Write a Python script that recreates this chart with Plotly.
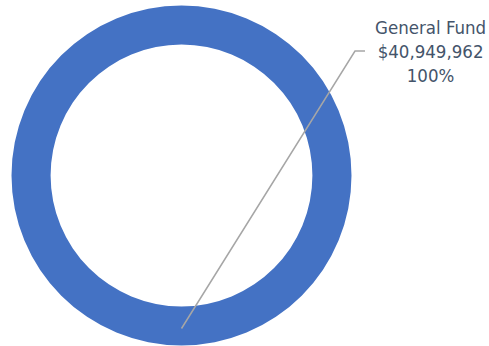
import plotly.graph_objects as go

# Fund breakdown
labels = ["General Fund"]
amounts = [40949962]
shares = [100]

W, H = 489, 346
ring_color = "#4472C4"
text_color = "#44546A"
leader_color = "#A6A6A6"
font_family = "Liberation Sans Narrow, Arial Narrow, DejaVu Sans Condensed, sans-serif"

# Donut placement in pixels (top-down)
left, right, top, bottom = 11.5, 351.5, 5.5, 345.5
cx, cy = (left + right) / 2, (top + bottom) / 2
r_out = (right - left) / 2

fig = go.Figure(
    go.Pie(
        labels=labels,
        values=amounts,
        hole=0.77,
        sort=False,
        direction="clockwise",
        rotation=0,
        textinfo="none",
        hoverinfo="label+value+percent",
        marker=dict(colors=[ring_color], line=dict(width=0)),
        domain=dict(x=[left / W, right / W], y=[1 - bottom / H, 1 - top / H]),
        showlegend=False,
    )
)

# Label text built from the data
label_text = f"{labels[0]}<br>${amounts[0]:,}<br>{shares[0]}%"
label_x, label_y = 430, 51

fig.add_annotation(
    x=label_x / W, y=1 - label_y / H, xref="paper", yref="paper",
    text=label_text, showarrow=False, align="center",
    xanchor="center", yanchor="middle",
    font=dict(family=font_family, size=18.5, color=text_color),
)

# Leader line from the middle of the ring (slice midpoint at the bottom) to the label
ax_px, ay_px = cx, cy + 0.9 * r_out
elbow_x, end_x = 355, 365
path = (
    f"M {ax_px / W} {1 - ay_px / H} "
    f"L {elbow_x / W} {1 - label_y / H} "
    f"L {end_x / W} {1 - label_y / H}"
)
fig.add_shape(type="path", path=path, xref="paper", yref="paper",
              line=dict(color=leader_color, width=1.5))

fig.update_layout(
    width=W, height=H,
    margin=dict(l=0, r=0, t=0, b=0),
    paper_bgcolor="white",
    plot_bgcolor="white",
)

fig.write_html("out.html")
